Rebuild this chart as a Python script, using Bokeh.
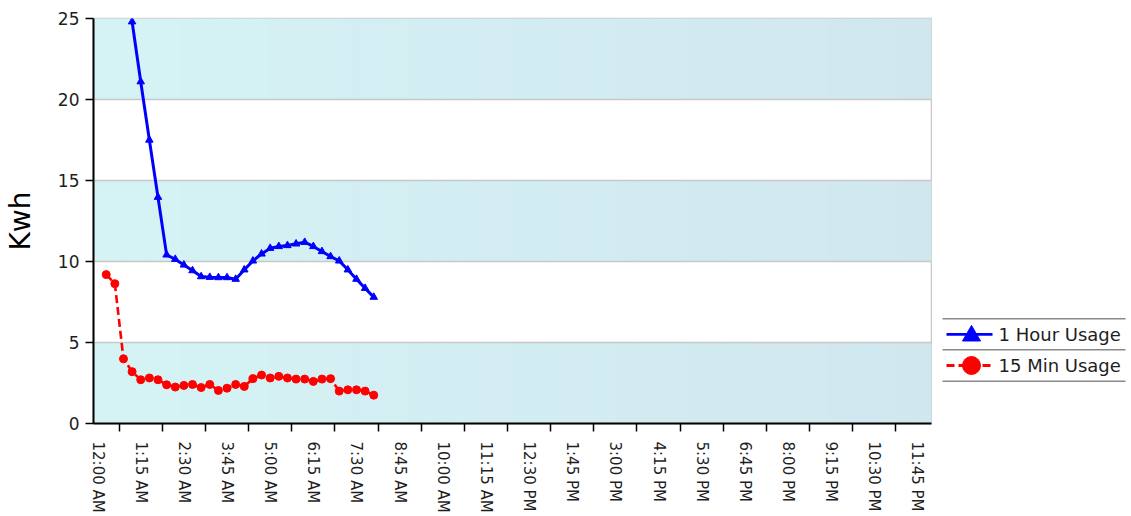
import numpy as np
from bokeh.plotting import figure
from bokeh.layouts import row
from bokeh.models import Range1d, FixedTicker
from bokeh.embed import file_html
from bokeh.resources import INLINE
from bokeh.core.properties import value

FONT = "DejaVu Sans"

# ---------------- data ----------------
x_tick_labels = ["12:00 AM", "1:15 AM", "2:30 AM", "3:45 AM", "5:00 AM", "6:15 AM",
                 "7:30 AM", "8:45 AM", "10:00 AM", "11:15 AM", "12:30 PM", "1:45 PM",
                 "3:00 PM", "4:15 PM", "5:30 PM", "6:45 PM", "8:00 PM", "9:15 PM",
                 "10:30 PM", "11:45 PM"]
label_step_min = 75      # minutes between labels
slot_min = 15            # minutes between readings

fifteen_min_start = 15   # first reading, minutes after midnight
fifteen_min_usage = [9.19, 8.63, 3.99, 3.20, 2.70, 2.81, 2.70, 2.39, 2.25, 2.35, 2.41,
                     2.22, 2.41, 2.04, 2.18, 2.41, 2.29, 2.77, 2.99, 2.81, 2.91, 2.81,
                     2.74, 2.74, 2.60, 2.74, 2.77, 2.00, 2.08, 2.08, 2.00, 1.75]

one_hour_start = 60
one_hour_usage = [24.8, 21.1, 17.5, 13.97, 10.41, 10.14, 9.79, 9.44, 9.07, 9.03, 9.01,
                  9.01, 8.91, 9.49, 10.04, 10.47, 10.82, 10.93, 10.99, 11.09, 11.19,
                  10.93, 10.62, 10.31, 10.04, 9.49, 8.91, 8.35, 7.80]

y_ticks = [0, 5, 10, 15, 20, 25]
series_names = ["1 Hour Usage", "15 Min Usage"]
series_colors = ["#0000ff", "#ff0000"]
series_markers = ["triangle", "circle"]
series_dashes = ["solid", "8 4"]

H = 515
PW = 932
LW = 198
FRAME_TOP = 18
FRAME_BOTTOM = 423

# ---------------- main figure ----------------
x0, x1 = -7.1, 1449.5
p = figure(width=PW, height=H, x_range=Range1d(x0, x1), y_range=Range1d(0, 25),
           toolbar_location=None, output_backend="svg",
           min_border_left=93, min_border_top=FRAME_TOP, min_border_right=1,
           min_border_bottom=0)
p.background_fill_color = "white"
p.border_fill_color = "white"
p.outline_line_color = "#c8c8c8"
p.outline_line_width = 1.5

# alternating gradient bands
n_strips = 48
edges = np.linspace(x0, x1, n_strips + 1)
c_left = np.array([213, 243, 245])
c_right = np.array([208, 231, 238])
L, R, B, T, C = [], [], [], [], []
for k in range(len(y_ticks) - 1):
    if k % 2 == 0:
        for i in range(n_strips):
            t = (i + 0.5) / n_strips
            c = (c_left * (1 - t) + c_right * t).round().astype(int)
            L.append(edges[i]); R.append(edges[i + 1])
            B.append(y_ticks[k]); T.append(y_ticks[k + 1])
            C.append("#%02x%02x%02x" % tuple(c))
p.quad(left=L, right=R, bottom=B, top=T, fill_color=C, line_color=C, line_width=0.6,
       level="image")

p.xgrid.visible = False
p.ygrid.ticker = FixedTicker(ticks=y_ticks)
p.ygrid.grid_line_color = "#c8c8c8"
p.ygrid.grid_line_width = 1.5

# series
red_x = fifteen_min_start + slot_min * np.arange(len(fifteen_min_usage))
blue_x = one_hour_start + slot_min * np.arange(len(one_hour_usage))

p.line(blue_x, one_hour_usage, line_color=series_colors[0], line_width=3)
p.scatter(blue_x, one_hour_usage, marker="triangle", size=7.5, color=series_colors[0])
p.line(red_x, fifteen_min_usage, line_color=series_colors[1], line_width=2.6,
       line_dash=series_dashes[1])
p.scatter(red_x, fifteen_min_usage, marker="circle", size=8, color=series_colors[1])

# axes
label_pos = [i * label_step_min for i in range(len(x_tick_labels))]
minor_pos = [label_step_min / 2 + i * label_step_min for i in range(len(x_tick_labels) - 1)]
xa = p.xaxis[0]
xa.ticker = FixedTicker(ticks=label_pos, minor_ticks=minor_pos)
xa.major_label_overrides = {pos: lab for pos, lab in zip(label_pos, x_tick_labels)}
xa.major_label_orientation = "vertical"
xa.major_tick_out = 0
xa.major_tick_in = 0
xa.minor_tick_out = 8
xa.minor_tick_in = 0
xa.minor_tick_line_color = "black"
xa.minor_tick_line_width = 1.5
xa.major_label_standoff = 10
xa.major_label_text_font = FONT
xa.major_label_text_font_size = "15px"
xa.major_label_text_color = "#1e1e1e"
xa.axis_line_color = "black"
xa.axis_line_width = 2

ya = p.yaxis[0]
ya.ticker = FixedTicker(ticks=y_ticks)
ya.major_tick_out = 8
ya.major_tick_in = 0
ya.major_tick_line_width = 1.5
ya.major_tick_line_color = "black"
ya.minor_tick_out = 0
ya.minor_tick_in = 0
ya.major_label_standoff = 6
ya.major_label_text_font = FONT
ya.major_label_text_font_size = "17px"
ya.major_label_text_color = "#1e1e1e"
ya.axis_line_color = "black"
ya.axis_line_width = 2
ya.axis_label = "Kwh"
ya.axis_label_text_font = FONT
ya.axis_label_text_font_size = "28px"
ya.axis_label_text_font_style = "normal"
ya.axis_label_text_color = "black"
ya.axis_label_standoff = 18

# ---------------- legend panel ----------------
# row layouts align plot frames, so this panel's frame spans the same rows as p's frame;
# its y range is set so that one unit is one pixel of the page.
lf = figure(width=LW, height=H, x_range=Range1d(0, LW),
            y_range=Range1d(FRAME_BOTTOM, FRAME_TOP),
            toolbar_location=None, output_backend="svg", min_border=0,
            x_axis_location=None, y_axis_location=None)
lf.grid.visible = False
lf.outline_line_color = None
lf.background_fill_color = "white"
lf.border_fill_color = "white"

seps = [318.3, 349.3, 380.7]
lf.segment(x0=[10] * len(seps), x1=[193] * len(seps), y0=seps, y1=seps,
           line_color="#8a8a8a", line_width=1.5)
for i, name in enumerate(series_names):
    yc = (seps[i] + seps[i + 1]) / 2
    lf.line([14, 60], [yc, yc], line_color=series_colors[i], line_width=2.8,
            line_dash=series_dashes[i])
    lf.scatter([39], [yc + (1.5 if series_markers[i] == "triangle" else 0)],
               marker=series_markers[i], size=18, color=series_colors[i])
    lf.text([66], [yc], text=[name], text_font=value(FONT), text_font_size="18px",
            text_baseline="middle", text_align="left", text_color="#1e1e1e")

layout = row(p, lf)
open("out.html", "w").write(file_html(layout, INLINE))
